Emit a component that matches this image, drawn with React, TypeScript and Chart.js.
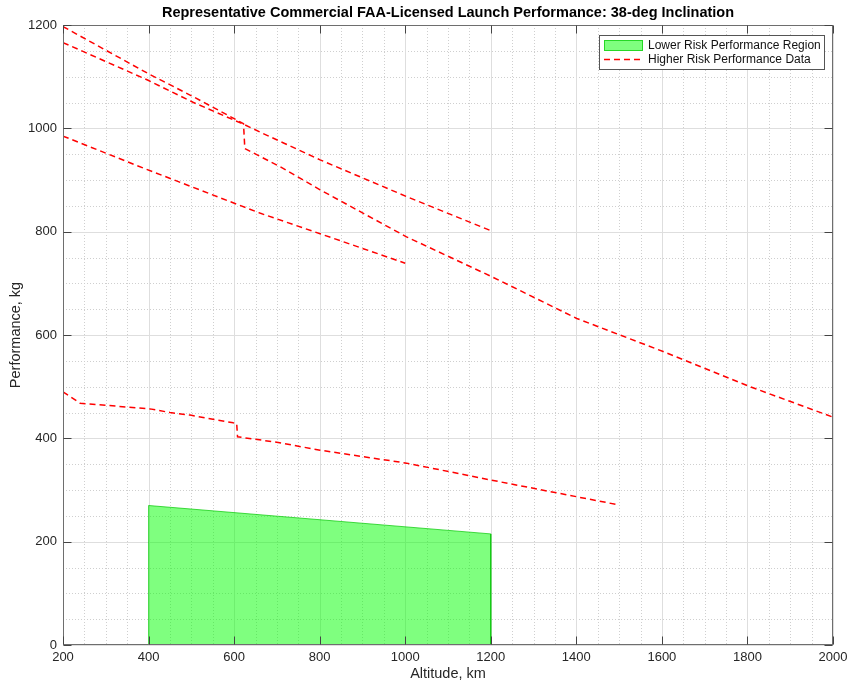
import React, { useEffect, useRef } from 'react';
import { Chart, registerables } from 'chart.js';

Chart.register(...registerables);

const TITLE = 'Representative Commercial FAA-Licensed Launch Performance: 38-deg Inclination';
const X_LABEL = 'Altitude, km';
const Y_LABEL = 'Performance, kg';
const LEGEND_LABELS = ['Lower Risk Performance Region', 'Higher Risk Performance Data'];

const X_TICKS = [200, 400, 600, 800, 1000, 1200, 1400, 1600, 1800, 2000];
const Y_TICKS = [0, 200, 400, 600, 800, 1000, 1200];

// Lower risk region (filled polygon)
const regionAlt = [400, 400, 1200, 1200];
const regionPerf = [0, 270, 215, 0];

// Higher risk curves
const curveAAlt = [200, 399, 505, 622, 625, 707, 801, 1003, 1202, 1401, 1603, 1806, 2000];
const curveAPerf = [1197, 1106, 1061, 1009, 961, 926, 881, 790, 713, 632, 568, 500, 441];

const curveBAlt = [200, 399, 505, 622, 660, 801, 1003, 1200];
const curveBPerf = [1166, 1093, 1050, 1008, 993, 939, 868, 802];

const curveCAlt = [200, 388, 660, 801, 1000];
const curveCPerf = [985, 923, 836, 796, 739];

const curveDAlt = [200, 240, 403, 450, 497, 598, 606, 608, 703, 801, 1003, 1202, 1500];
const curveDPerf = [490, 468, 457, 450, 445, 430, 429, 403, 392, 377, 352, 319, 271];

const FONT = '"Liberation Sans", Arial, Helvetica, sans-serif';
const RED = 'rgb(255,0,0)';
const GREEN_FILL = 'rgba(0,255,0,0.5)';
const GREEN_EDGE = 'rgba(0,200,0,0.7)';
const DASH = [6, 4];

const pts = (xs: number[], ys: number[]) => xs.map((x, i) => ({ x, y: ys[i] }));

const redLine = (xs: number[], ys: number[]) => ({
  data: pts(xs, ys),
  showLine: true,
  borderColor: RED,
  borderWidth: 1.5,
  borderDash: DASH,
  pointRadius: 0,
  fill: false,
  tension: 0,
});

const zeroPad = (s: any) => {
  s.paddingLeft = 0;
  s.paddingRight = 0;
  s.paddingTop = 0;
  s.paddingBottom = 0;
};

const decor = {
  id: 'decor',
  beforeDatasetsDraw(chart: any) {
    const { ctx, chartArea: a, scales } = chart;
    const xs = scales.x, ys = scales.y;
    ctx.save();
    // minor grid (dotted)
    ctx.strokeStyle = '#cfcfcf';
    ctx.lineWidth = 1;
    ctx.setLineDash([1, 2]);
    for (let v = 200; v <= 2000; v += 50) {
      if (v % 200 === 0) continue;
      const px = Math.round(xs.getPixelForValue(v)) + 0.5;
      ctx.beginPath(); ctx.moveTo(px, a.top); ctx.lineTo(px, a.bottom); ctx.stroke();
    }
    for (let v = 0; v <= 1200; v += 50) {
      if (v % 200 === 0) continue;
      const py = Math.round(ys.getPixelForValue(v)) + 0.5;
      ctx.beginPath(); ctx.moveTo(a.left, py); ctx.lineTo(a.right, py); ctx.stroke();
    }
    // major grid (solid)
    ctx.setLineDash([]);
    ctx.strokeStyle = '#dedede';
    X_TICKS.forEach((v) => {
      const px = Math.round(xs.getPixelForValue(v)) + 0.5;
      ctx.beginPath(); ctx.moveTo(px, a.top); ctx.lineTo(px, a.bottom); ctx.stroke();
    });
    Y_TICKS.forEach((v) => {
      const py = Math.round(ys.getPixelForValue(v)) + 0.5;
      ctx.beginPath(); ctx.moveTo(a.left, py); ctx.lineTo(a.right, py); ctx.stroke();
    });
    ctx.restore();
  },
  afterDatasetsDraw(chart: any) {
    const { ctx, chartArea: a, scales } = chart;
    const xs = scales.x, ys = scales.y;
    ctx.save();
    // box
    ctx.strokeStyle = '#6e6e6e';
    ctx.lineWidth = 1;
    const L = Math.round(a.left) + 0.5, R = Math.round(a.right) - 0.5;
    const T = Math.round(a.top) + 0.5, B = Math.round(a.bottom) - 0.5;
    ctx.strokeRect(L, T, R - L, B - T);
    // inward tick marks
    ctx.strokeStyle = '#444';
    const tl = 8;
    X_TICKS.forEach((v) => {
      const px = Math.round(xs.getPixelForValue(v)) + 0.5;
      ctx.beginPath(); ctx.moveTo(px, B); ctx.lineTo(px, B - tl); ctx.stroke();
      ctx.beginPath(); ctx.moveTo(px, T); ctx.lineTo(px, T + tl); ctx.stroke();
    });
    Y_TICKS.forEach((v) => {
      const py = Math.round(ys.getPixelForValue(v)) + 0.5;
      ctx.beginPath(); ctx.moveTo(L, py); ctx.lineTo(L + tl, py); ctx.stroke();
      ctx.beginPath(); ctx.moveTo(R, py); ctx.lineTo(R - tl, py); ctx.stroke();
    });

    // legend
    const lx = 599.5, ly = 35.5, lw = 225, lh = 34;
    ctx.fillStyle = '#ffffff';
    ctx.fillRect(lx, ly, lw, lh);
    ctx.strokeStyle = '#555';
    ctx.strokeRect(lx, ly, lw, lh);
    ctx.fillStyle = GREEN_FILL;
    ctx.fillRect(604, 40, 39, 11);
    ctx.strokeStyle = GREEN_EDGE;
    ctx.strokeRect(604.5, 40.5, 38, 10);
    ctx.strokeStyle = RED;
    ctx.lineWidth = 1.5;
    ctx.setLineDash(DASH);
    ctx.beginPath(); ctx.moveTo(604, 59.5); ctx.lineTo(643, 59.5); ctx.stroke();
    ctx.setLineDash([]);
    ctx.fillStyle = '#111';
    ctx.font = `12px ${FONT}`;
    ctx.textAlign = 'left';
    ctx.textBaseline = 'middle';
    ctx.fillText(LEGEND_LABELS[0], 648, 46);
    ctx.fillText(LEGEND_LABELS[1], 648, 60);

    // titles
    const cx = (a.left + a.right) / 2;
    const cy = (a.top + a.bottom) / 2;
    ctx.fillStyle = '#000';
    ctx.font = `bold 14.5px ${FONT}`;
    ctx.textAlign = 'center';
    ctx.textBaseline = 'middle';
    ctx.fillText(TITLE, cx, 13);
    ctx.fillStyle = '#262626';
    ctx.font = `14.5px ${FONT}`;
    ctx.fillText(X_LABEL, cx, 674);
    ctx.save();
    ctx.translate(16, cy);
    ctx.rotate(-Math.PI / 2);
    ctx.fillText(Y_LABEL, 0, 0);
    ctx.restore();
    ctx.restore();
  },
};

export default function App() {
  const ref = useRef<HTMLCanvasElement | null>(null);
  useEffect(() => {
    document.body.style.margin = '0';
    const canvas = ref.current!;
    const chart = new Chart(canvas, {
      type: 'scatter',
      data: {
        datasets: [
          {
            data: pts(regionAlt, regionPerf),
            showLine: true,
            borderColor: GREEN_EDGE,
            borderWidth: 1,
            backgroundColor: GREEN_FILL,
            pointRadius: 0,
            fill: 'origin',
            tension: 0,
          },
          redLine(curveAAlt, curveAPerf),
          redLine(curveBAlt, curveBPerf),
          redLine(curveCAlt, curveCPerf),
          redLine(curveDAlt, curveDPerf),
        ] as any,
      },
      options: {
        responsive: false,
        animation: false,
        events: [],
        layout: { padding: { top: 25, right: 17, left: 0, bottom: 0 } },
        plugins: {
          legend: { display: false },
          tooltip: { enabled: false },
          title: { display: false },
        },
        scales: {
          x: {
            type: 'linear',
            min: 200,
            max: 2000,
            afterBuildTicks: (s: any) => { s.ticks = X_TICKS.map((v) => ({ value: v })); },
            afterFit: (s: any) => { s.height = 37; zeroPad(s); },
            ticks: {
              color: '#262626',
              font: { family: FONT, size: 13 },
              padding: 5,
              maxRotation: 0,
              autoSkip: false,
              callback: (v: any) => String(v),
            },
            grid: { display: false, drawTicks: false },
            border: { display: false },
          },
          y: {
            type: 'linear',
            min: 0,
            max: 1200,
            afterBuildTicks: (s: any) => { s.ticks = Y_TICKS.map((v) => ({ value: v })); },
            afterFit: (s: any) => { s.width = 63; zeroPad(s); },
            ticks: {
              color: '#262626',
              font: { family: FONT, size: 13 },
              padding: 6,
              autoSkip: false,
              callback: (v: any) => String(v),
            },
            grid: { display: false, drawTicks: false },
            border: { display: false },
          },
        },
      } as any,
      plugins: [decor],
    });
    return () => chart.destroy();
  }, []);
  return <canvas ref={ref} width={850} height={682} style={{ display: 'block' }} />;
}
